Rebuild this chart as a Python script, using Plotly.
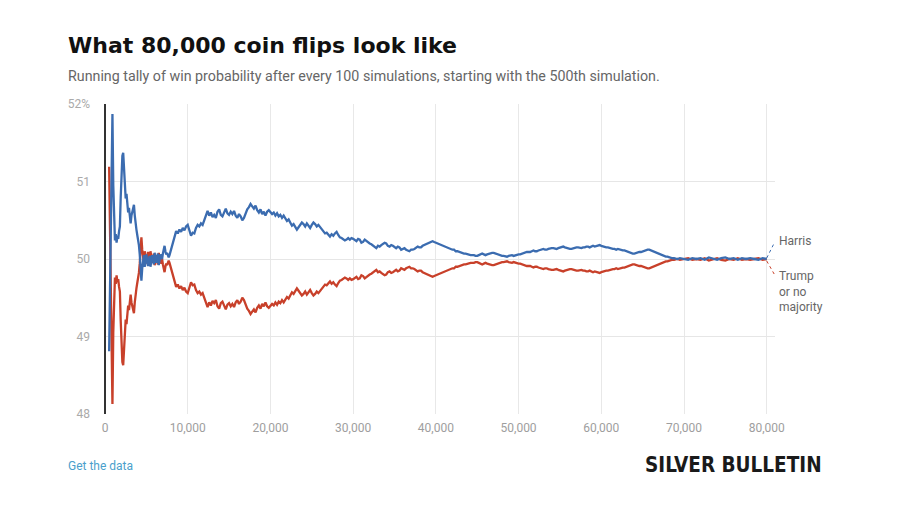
import plotly.graph_objects as go

# ---- data ----
sims_a = list(range(500, 8001, 100))
harris_a = [
    48.81, 49.55, 50.55, 51.35, 51.87, 50.95, 50.38, 50.24, 50.32, 50.21,
    50.30, 50.26, 50.36, 50.42, 50.80, 51.12, 51.33, 51.37, 51.12, 50.92,
    50.78, 50.84, 50.68, 50.60, 50.66, 50.52, 50.46, 50.56, 50.62, 50.68,
    50.70, 50.56, 50.44, 50.38, 50.31, 50.26, 50.18, 50.06, 49.86, 49.72,
    49.88, 49.98, 50.05, 49.90, 49.97, 50.06, 49.98, 49.91, 49.99, 50.04,
    49.90, 49.96, 50.05, 50.00, 49.93, 50.08, 50.01, 49.95, 50.02, 50.07,
    49.92, 49.98, 50.06, 50.02, 50.00, 50.07, 50.12, 50.17, 50.10, 50.06,
    50.08, 50.04, 50.02, 50.05, 50.09, 50.14,
]
sims_b = list(range(8200, 30001, 200))
harris_b = [
    50.22, 50.30, 50.36, 50.33, 50.38, 50.35, 50.40, 50.37, 50.42, 50.44,
    50.36, 50.30, 50.34, 50.33, 50.40, 50.44, 50.42, 50.46, 50.44, 50.50,
    50.58, 50.62, 50.56, 50.60, 50.54, 50.57, 50.53, 50.61, 50.64, 50.57,
    50.55, 50.61, 50.65, 50.59, 50.57, 50.61, 50.58, 50.62, 50.56, 50.53,
    50.58, 50.55, 50.50, 50.53, 50.59, 50.64, 50.67, 50.71, 50.68, 50.65,
    50.69, 50.63, 50.60, 50.64, 50.58, 50.61, 50.56, 50.61, 50.63, 50.60,
    50.58, 50.60, 50.56, 50.59, 50.55, 50.57, 50.53, 50.56, 50.52, 50.49,
    50.51, 50.46, 50.43, 50.45, 50.41, 50.38, 50.41, 50.44, 50.47, 50.45,
    50.42, 50.46, 50.43, 50.40, 50.44, 50.47, 50.45, 50.42, 50.44, 50.41,
    50.38, 50.35, 50.33, 50.34, 50.31, 50.29, 50.32, 50.30, 50.33, 50.35,
    50.31, 50.28, 50.27, 50.26, 50.24, 50.25, 50.27, 50.25, 50.27, 50.26,
]
sims_c = list(range(30200, 69201, 200))
harris_c = [
    50.24, 50.23, 50.26, 50.25, 50.21, 50.22, 50.25, 50.23, 50.22, 50.20,
    50.19, 50.17, 50.16, 50.14, 50.17, 50.16, 50.18, 50.19, 50.21, 50.20,
    50.17, 50.16, 50.18, 50.17, 50.15, 50.14, 50.16, 50.15, 50.12, 50.13,
    50.14, 50.12, 50.11, 50.10, 50.12, 50.12, 50.13, 50.14, 50.16, 50.15,
    50.15, 50.17, 50.18, 50.19, 50.20, 50.21, 50.22, 50.23, 50.22, 50.21,
    50.20, 50.19, 50.18, 50.17, 50.17, 50.16, 50.15, 50.14, 50.13, 50.12,
    50.12, 50.10, 50.10, 50.09, 50.08, 50.08, 50.07, 50.07, 50.06, 50.06,
    50.05, 50.05, 50.05, 50.04, 50.04, 50.05, 50.06, 50.07, 50.06, 50.05,
    50.06, 50.07, 50.08, 50.08, 50.08, 50.07, 50.07, 50.06, 50.05, 50.04,
    50.04, 50.03, 50.03, 50.04, 50.05, 50.05, 50.04, 50.05, 50.06, 50.06,
    50.06, 50.07, 50.07, 50.08, 50.09, 50.09, 50.09, 50.10, 50.11, 50.10,
    50.10, 50.11, 50.12, 50.12, 50.13, 50.12, 50.12, 50.13, 50.14, 50.14,
    50.14, 50.13, 50.13, 50.14, 50.15, 50.15, 50.16, 50.15, 50.14, 50.14,
    50.13, 50.13, 50.14, 50.14, 50.15, 50.15, 50.14, 50.14, 50.15, 50.15,
    50.16, 50.16, 50.15, 50.16, 50.17, 50.16, 50.17, 50.17, 50.18, 50.17,
    50.16, 50.16, 50.15, 50.15, 50.14, 50.14, 50.13, 50.13, 50.12, 50.13,
    50.12, 50.12, 50.11, 50.11, 50.10, 50.10, 50.09, 50.08, 50.07, 50.07,
    50.08, 50.08, 50.09, 50.09, 50.10, 50.10, 50.11, 50.12, 50.12, 50.11,
    50.10, 50.09, 50.08, 50.07, 50.06, 50.05, 50.05, 50.04, 50.03, 50.03,
    50.02, 50.02, 50.01, 50.01, 50.00, 50.00,
]
sims_d = list(range(69500, 80001, 500))
harris_d = [
    50.01, 50.00, 49.99, 50.01, 50.00, 50.01, 49.99, 50.02, 50.00, 49.99,
    50.01, 50.02, 50.00, 50.01, 49.99, 50.01, 50.00, 50.01, 50.00, 49.99,
    50.01, 50.00,
]

assert len(sims_a) == len(harris_a)
assert len(sims_b) == len(harris_b)
assert len(sims_c) == len(harris_c)
assert len(sims_d) == len(harris_d)

sims = sims_a + sims_b + sims_c + sims_d
harris = harris_a + harris_b + harris_c + harris_d
# "Trump or no majority" is the complement of the Harris share
trump = [round(100 - h, 2) for h in harris]

x_ticks = [0, 10000, 20000, 30000, 40000, 50000, 60000, 70000, 80000]
x_tick_labels = ["0", "10,000", "20,000", "30,000", "40,000", "50,000", "60,000", "70,000", "80,000"]
y_ticks = [48, 49, 50, 51, 52]
y_tick_labels = ["48", "49", "50", "51", "52%"]

BLUE = "#3b6cb0"
RED = "#c8402a"

# ---- layout geometry (pixels) ----
W, H = 900, 505
L, R, T, B = 105, 775, 104, 414.5
PW, PH = R - L, B - T


def px(xp):
    return (xp - L) / PW


def py(yp):
    return (B - yp) / PH


fig = go.Figure()
fig.add_trace(go.Scatter(x=sims, y=trump, mode="lines", line=dict(color=RED, width=2.3),
                         name="Trump or no majority", hoverinfo="skip"))
fig.add_trace(go.Scatter(x=sims, y=harris, mode="lines", line=dict(color=BLUE, width=2.3),
                         name="Harris", hoverinfo="skip"))

fig.update_layout(
    width=W, height=H,
    margin=dict(l=L, r=W - R, t=T, b=H - B, pad=0),
    paper_bgcolor="white", plot_bgcolor="white",
    showlegend=False,
    font=dict(family="Roboto", size=12, color="#999999"),
    xaxis=dict(range=[0, 81000], tickvals=x_ticks, ticktext=x_tick_labels,
               showgrid=True, gridcolor="#e8e8e8", gridwidth=1,
               zeroline=True, zerolinecolor="#333333", zerolinewidth=2,
               showline=False, ticks="", ticklabelstandoff=5,
               tickfont=dict(family="Roboto", size=12, color="#9e9e9e"), fixedrange=True),
    yaxis=dict(range=[48, 52], tickvals=y_ticks, ticktext=y_tick_labels,
               showgrid=True, gridcolor="#e6e6e6", gridwidth=1,
               zeroline=False, showline=False, ticks="", ticklabelstandoff=14,
               tickfont=dict(family="Roboto", size=12, color="#aaaaaa"), fixedrange=True),
)

# leader lines from end of series to labels
fig.add_shape(type="line", xref="x", yref="y", xsizemode="pixel", ysizemode="pixel",
              xanchor=sims[-1], yanchor=harris[-1], x0=0, x1=8, y0=1, y1=17,
              line=dict(color=BLUE, width=1, dash="dot"))
fig.add_shape(type="line", xref="x", yref="y", xsizemode="pixel", ysizemode="pixel",
              xanchor=sims[-1], yanchor=trump[-1], x0=0, x1=8, y0=-2, y1=-16,
              line=dict(color=RED, width=1, dash="dot"))

annotations = [
    dict(text="What 80,000 coin flips look like", x=px(66), y=py(45), xanchor="left", yanchor="middle",
         font=dict(family="DejaVu Sans", size=22, color="#111111", weight="bold")),
    dict(text="Running tally of win probability after every 100 simulations, starting with the 500th simulation.",
         x=px(66), y=py(76), xanchor="left", yanchor="middle",
         font=dict(family="Roboto", size=14.25, color="#666666")),
    dict(text="Harris", x=px(777), y=py(241), xanchor="left", yanchor="middle",
         font=dict(family="Roboto", size=12, color="#666666")),
    dict(text="Trump<br>or no<br>majority", x=px(777), y=py(292), xanchor="left", yanchor="middle", align="left",
         font=dict(family="Roboto", size=12, color="#666666")),
    dict(text="Get the data", x=px(66), y=py(467), xanchor="left", yanchor="middle",
         font=dict(family="Roboto", size=12, color="#4a9fcc")),
    dict(text="SILVER BULLETIN", x=px(824), y=py(466), xanchor="right", yanchor="middle",
         font=dict(family="Liberation Sans Narrow, DejaVu Sans Condensed, Roboto", size=20.5,
                   color="#1a1a1a", weight="bold")),
]
for a in annotations:
    a.update(xref="paper", yref="paper", showarrow=False)
    fig.add_annotation(**a)

fig.write_html("out.html", config={"displayModeBar": False},
               post_script="document.body.style.margin='0';")
